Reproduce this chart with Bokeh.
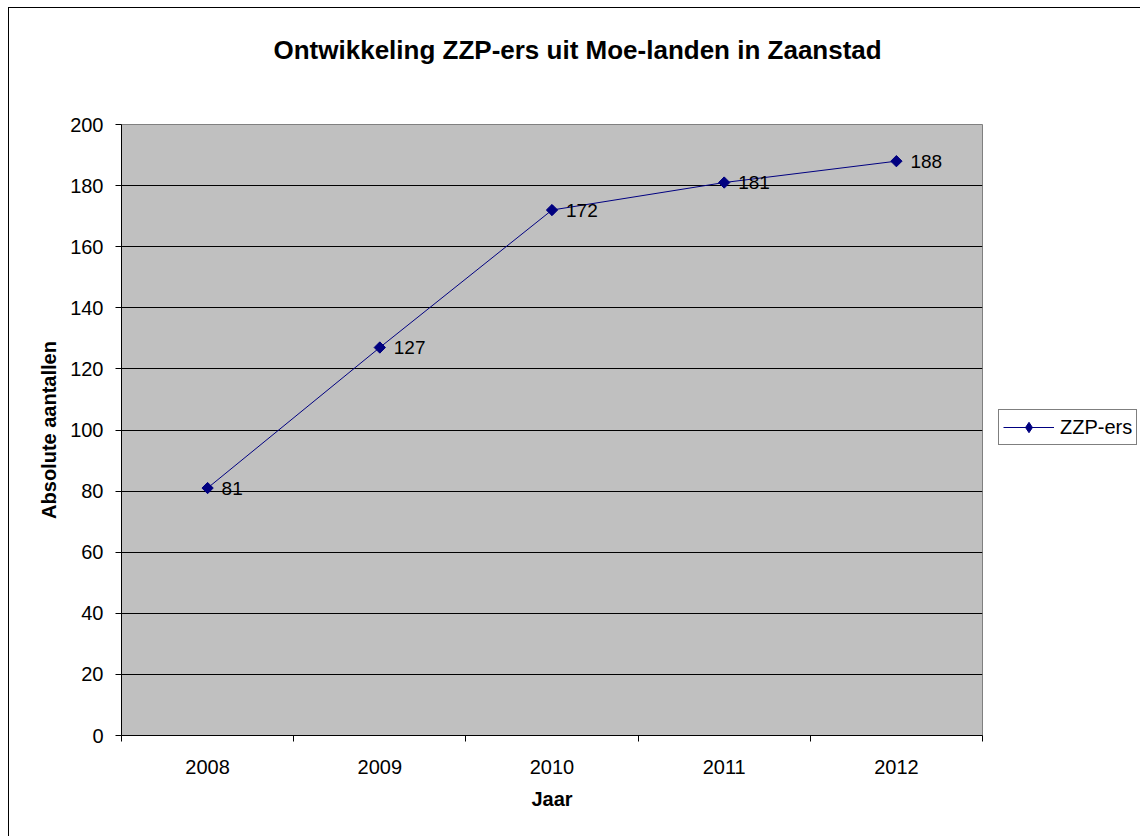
import math
from bokeh.plotting import figure
from bokeh.models import (ColumnDataSource, FixedTicker, Legend, LegendItem, Range1d, Title)
from bokeh.core.properties import value
from bokeh.embed import file_html
from bokeh.resources import INLINE

# ---- data ----
years = ["2008", "2009", "2010", "2011", "2012"]
zzp_ers = [81, 127, 172, 181, 188]
y_ticks = [0, 20, 40, 60, 80, 100, 120, 140, 160, 180, 200]
title_text = "Ontwikkeling ZZP-ers uit Moe-landen in Zaanstad"
x_title = "Jaar"
y_title = "Absolute aantallen"
series_name = "ZZP-ers"

FONT = "Liberation Sans"
NAVY = "#000080"
xs = [i + 1 for i in range(len(years))]
src = ColumnDataSource(dict(x=xs, y=zzp_ers, lab=[str(v) for v in zzp_ers]))

p = figure(title=None, frame_width=861, frame_height=611, output_backend="svg",
           toolbar_location=None,
           x_range=Range1d(0.5, len(years) + 0.5), y_range=Range1d(0, 200),
           min_border_left=112, min_border_top=116, min_border_right=157, min_border_bottom=101)
p.styles = {"margin-left": "8px", "margin-top": "7px",
            "border-left": "1px solid black", "border-top": "1px solid black"}

p.background_fill_color = "#C0C0C0"
p.border_fill_color = "white"
p.outline_line_color = "#808080"
p.outline_line_width = 1

# title: spacer (nearest the frame) then the real title above it
p.add_layout(Title(text=" ", text_font=FONT, text_font_size="26px", standoff=28), "above")
p.add_layout(Title(text=title_text, align="left", offset=152, standoff=0,
                   text_font=FONT, text_font_size="26px", text_font_style="bold",
                   text_color="black"), "above")

# grid
p.xgrid.visible = False
p.ygrid.ticker = FixedTicker(ticks=y_ticks[1:-1])
p.ygrid.grid_line_color = "black"
p.ygrid.grid_line_width = 1

# x axis
xa = p.xaxis[0]
xa.ticker = FixedTicker(ticks=xs, minor_ticks=[x - 0.5 for x in xs] + [xs[-1] + 0.5])
xa.major_label_overrides = {x: y for x, y in zip(xs, years)}
xa.major_tick_out = 0
xa.major_tick_in = 0
xa.minor_tick_out = 6
xa.minor_tick_in = 0
xa.minor_tick_line_color = "black"
xa.axis_line_color = "black"
xa.major_label_text_font = FONT
xa.major_label_text_font_size = "20px"
xa.major_label_text_color = "black"
xa.major_label_standoff = 18
xa.axis_label = x_title
xa.axis_label_text_font = FONT
xa.axis_label_text_font_size = "20px"
xa.axis_label_text_font_style = "bold"
xa.axis_label_text_color = "black"
xa.axis_label_standoff = 11

# y axis
ya = p.yaxis[0]
ya.ticker = FixedTicker(ticks=y_ticks)
ya.major_tick_out = 6
ya.major_tick_in = 0
ya.minor_tick_out = 0
ya.minor_tick_in = 0
ya.major_tick_line_color = "black"
ya.axis_line_color = "black"
ya.major_label_text_font = FONT
ya.major_label_text_font_size = "20px"
ya.major_label_text_color = "black"
ya.major_label_standoff = 12
ya.axis_label = y_title
ya.axis_label_text_font = FONT
ya.axis_label_text_font_size = "20px"
ya.axis_label_text_font_style = "bold"
ya.axis_label_text_color = "black"
ya.axis_label_standoff = 7

# series
line_r = p.line("x", "y", source=src, line_color=NAVY, line_width=1)
# diamond marker used for the legend glyph (fully covered by the rotated squares)
leg_mark = p.scatter("x", "y", source=src, marker="diamond", size=10,
                     fill_color=NAVY, line_color=NAVY)
pt_r = p.scatter("x", "y", source=src, marker="square", size=8, angle=math.pi / 4,
                 fill_color=NAVY, line_color=NAVY)
p.text("x", "y", text="lab", source=src, x_offset=14, text_baseline="middle",
       text_align="left", text_font=value(FONT), text_font_size="19px", text_color="black")

# legend
leg = Legend(items=[LegendItem(label=series_name, renderers=[line_r, leg_mark])],
             location=(16, 290), margin=0, padding=4, glyph_width=51, glyph_height=26,
             label_height=20, label_standoff=6, spacing=0,
             label_text_font=FONT, label_text_font_size="20px", label_text_color="black",
             border_line_color="black", border_line_width=1,
             background_fill_color="white", background_fill_alpha=1)
p.add_layout(leg, "right")

open("out.html", "w").write(file_html(p, INLINE))
